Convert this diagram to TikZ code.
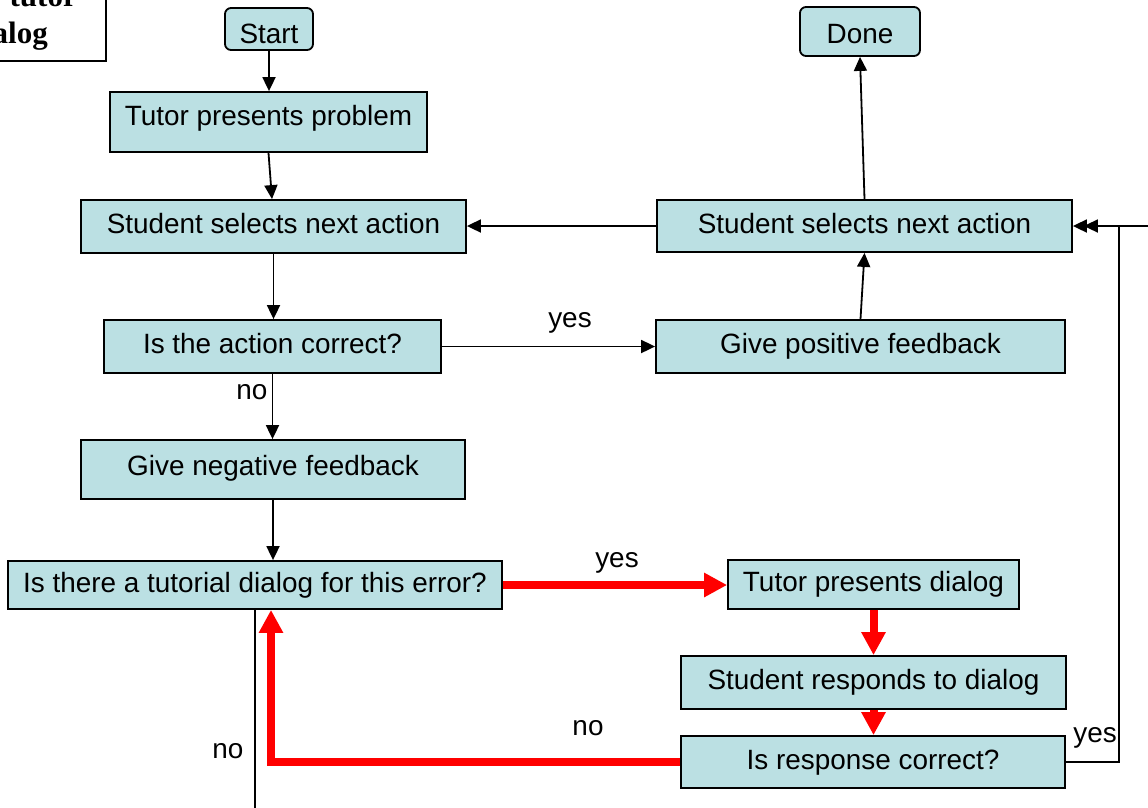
\documentclass[tikz,border=0pt]{standalone}
\usepackage{fontspec}
\setmainfont{Liberation Sans}
\newfontfamily\tlserif{Liberation Serif}
\usetikzlibrary{arrows.meta}
\definecolor{boxfill}{RGB}{187,224,227}
\begin{document}
\begin{tikzpicture}[x=1pt,y=-1pt,
  box/.style={draw=black, line width=1.8pt, fill=boxfill, rectangle, inner sep=0pt,
    text height=20pt, text depth=6pt, font=\fontsize{27.9}{33}\selectfont},
  rbox/.style={box, rounded corners=6pt},
  arr/.style={line width=1.8pt, -{Triangle[length=14pt,width=13pt]}},
  plain/.style={line width=1.8pt},
  redarr/.style={draw=red, line width=8pt, -{Triangle[length=23pt,width=23pt]}},
  lbl/.style={font=\fontsize{27.9}{33}\selectfont, inner sep=0pt, anchor=base},
  ttl/.style={font=\tlserif\bfseries\fontsize{31}{37}\selectfont, inner sep=0pt, anchor=base east}
]
\useasboundingbox (0,0) rectangle (1148,807);
\clip (0,0) rectangle (1148,807);
\fill[white] (0,0) rectangle (1148,807);

% title box (clipped at the page edge, as in the reference)
\draw[line width=1.2pt] (-10,-10) rectangle (106,61);
\node[ttl] (tt1) at (77,6) {tutor};
\node[ttl] (tt2) at (48,43) {alog};

% boxes
\node[rbox, minimum width=88pt, minimum height=42pt] (start) at (269,29) {\raisebox{-7pt}[\height][\depth]{Start}};
\node[rbox, minimum width=120pt, minimum height=49pt] (done) at (860,31.5) {\raisebox{-4.5pt}[\height][\depth]{Done}};
\node[box, minimum width=317pt, minimum height=60pt] (tpp) at (268.5,122) {\raisebox{4pt}[\height][\depth]{Tutor presents problem}};
\node[box, minimum width=385pt, minimum height=53pt] (ssl) at (273.5,226.5) {Student selects next action};
\node[box, minimum width=415pt, minimum height=52pt] (ssr) at (864.5,226) {Student selects next action};
\node[box, minimum width=337pt, minimum height=53pt] (iac) at (272.5,346.5) {Is the action correct?};
\node[box, minimum width=409pt, minimum height=53pt] (pos) at (860.5,346.5) {Give positive feedback};
\node[box, minimum width=384pt, minimum height=59pt] (neg) at (273,469.5) {\raisebox{1.5pt}[\height][\depth]{Give negative feedback}};
\node[box, minimum width=494pt, minimum height=48pt] (dlg) at (255,585) {Is there a tutorial dialog for this error?};
\node[box, minimum width=291pt, minimum height=49pt] (tpd) at (873.5,584.5) {Tutor presents dialog};
\node[box, minimum width=385pt, minimum height=53pt] (srd) at (873.5,682.5) {Student responds to dialog};
\node[box, minimum width=384pt, minimum height=52pt] (irc) at (873,762) {Is response correct?};

% black connectors
\draw[arr] (start) -- (start |- tpp.north);
\draw[arr] (tpp.south) -- ([xshift=-1.5pt]ssl.north);
\draw[arr] (ssl.south) -- (ssl.south |- iac.north);
\draw[arr] (iac.south) -- (iac.south |- neg.north);
\draw[arr] (neg.south) -- (neg.south |- dlg.north);
\draw[arr] (iac.east) -- (iac.east -| pos.west);
\draw[arr] (pos.north) -- (ssr.south);
\draw[arr] (ssr.north) -- (done.south);
\draw[arr] (ssr.west) -- (ssr.west -| ssl.east);

\coordinate (noend) at (255,830);
\draw[plain] (dlg.south) -- (dlg.south |- noend);

\coordinate (yescorner) at (1119,762);
\draw[arr] (irc.east) -- (yescorner) |- (ssr.east);
\coordinate (offr) at (1170,226);
\draw[arr] (offr) -- ([xshift=11pt]ssr.east);

% red connectors
\draw[redarr] (dlg.east) -- (dlg.east -| tpd.west);
\draw[redarr] (tpd.south) -- (tpd.south |- srd.north);
\draw[redarr] (srd.south) -- (srd.south |- irc.north);
\draw[redarr] (irc.west) -| ([xshift=16pt]dlg.south);

% labels
\node[lbl] (yes1) at (570,327) {yes};
\node[lbl] (no1) at (252,399) {no};
\node[lbl] (yes2) at (617,567) {yes};
\node[lbl] (no2) at (588,735) {no};
\node[lbl] (no3) at (228,758) {no};
\node[lbl] (yes3) at (1095,742) {yes};
\end{tikzpicture}
\end{document}
